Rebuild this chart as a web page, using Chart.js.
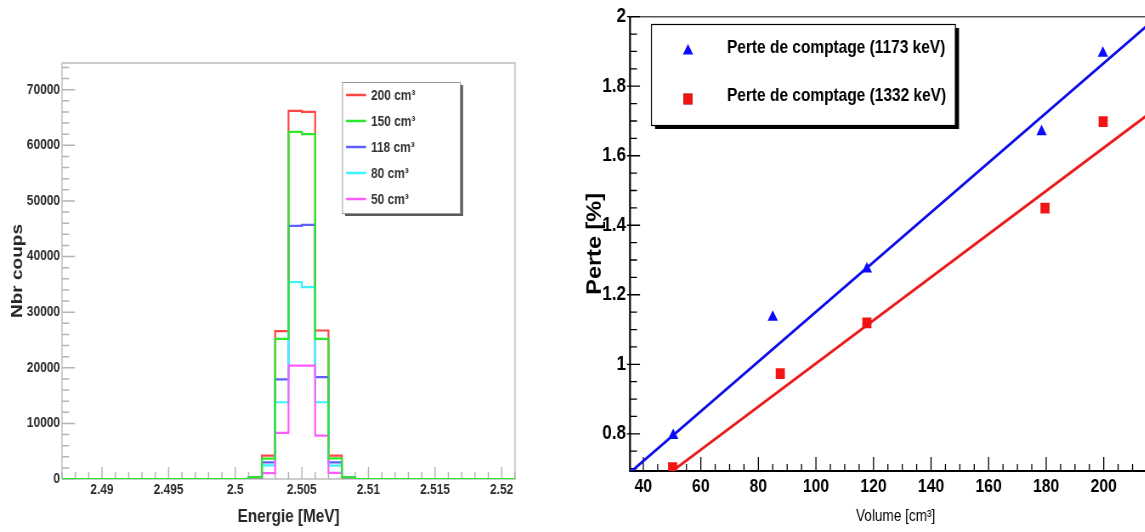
<!DOCTYPE html>
<html><head><meta charset="utf-8">
<script src="https://cdn.jsdelivr.net/npm/chart.js@4.4.1/dist/chart.umd.min.js"></script>
<style>
html,body{margin:0;padding:0;background:#fff;overflow:hidden;width:1145px;height:532px;position:relative}
.wrap{position:absolute;top:0;transform:scaleX(0.85);transform-origin:0 0}
#wl{left:0}
#wr{left:560px}
canvas{display:block}
</style></head><body>
<div class="wrap" id="wl"><canvas id="cl" width="659" height="532"></canvas></div>
<div class="wrap" id="wr"><canvas id="cr" width="715" height="532"></canvas></div>
<script>
// ================= LEFT: spectra =================
const binEdges = [2.501, 2.502, 2.503, 2.504, 2.505, 2.506, 2.507, 2.508, 2.509];
const energyRange = [2.487, 2.521];
const countRange = [0, 74800];
const volumeLabels = ['200 cm\u00B3', '150 cm\u00B3', '118 cm\u00B3', '80 cm\u00B3', '50 cm\u00B3'];
const counts200 = [300, 4200, 26600, 66200, 66000, 26700, 4200, 300];
const counts150 = [300, 3650, 25200, 62400, 62000, 25200, 3700, 300];
const counts118 = [250, 3000, 17900, 45500, 45700, 18300, 3000, 250];
const counts80  = [200, 2450, 13800, 35400, 34500, 13800, 2400, 200];
const counts50  = [100, 1050, 8300, 20400, 20400, 7800, 1100, 100];
const countTicks = [0, 10000, 20000, 30000, 40000, 50000, 60000, 70000];
const energyTicks = [2.49, 2.495, 2.5, 2.505, 2.51, 2.515, 2.52];
const countMinorStep = 2000;
const energyMinorStep = 0.001;

// ================= RIGHT: count loss =================
const volumes1173 = [50.4, 85.0, 117.7, 178.4, 199.7];
const loss1173    = [0.795, 1.135, 1.274, 1.669, 1.895];
const volumes1332 = [50.2, 87.6, 117.7, 179.6, 199.8];
const loss1332    = [0.703, 0.973, 1.119, 1.449, 1.698];
const fitVolumes  = [30, 230];
const fit1173     = [0.650, 2.081];
const fit1332     = [0.568, 1.809];
const volumeRange = [35.4, 220];
const lossRange   = [0.693, 2.0];
const volumeTicks = [40, 60, 80, 100, 120, 140, 160, 180, 200];
const lossTicks   = [0.8, 1, 1.2, 1.4, 1.6, 1.8, 2];
const volumeMinorStep = 5;
const lossMinorStep = 0.05;
const seriesLabels = ['Perte de comptage (1173 keV)', 'Perte de comptage (1332 keV)'];

// horizontal squeeze of the original picture
const S = 0.85;
const FN = "'Liberation Sans',Arial,Helvetica,sans-serif";

function minorValues(a, b, step) {
  const out = [];
  const n0 = Math.ceil(a / step - 1e-9), n1 = Math.floor(b / step + 1e-9);
  for (let n = n0; n <= n1; n++) out.push(+(n * step).toFixed(6));
  return out;
}
function stepPoints(edges, vals, range) {
  const pts = [{x: range[0], y: 0}];
  vals.forEach((v, i) => pts.push({x: edges[i], y: v}));
  pts.push({x: edges[edges.length - 1], y: 0});
  pts.push({x: range[1], y: 0});
  return pts;
}
const fmt = v => String(+(+v).toFixed(4));

// ---------- left chart ----------
const leftColors = ['#ff4646', '#2ae82a', '#5f5fff', '#3cf4ff', '#ff5cff'];
const leftSeries = [counts200, counts150, counts118, counts80, counts50];
const leftOrder = [4, 0, 3, 2, 1];

const leftDecor = {
  id: 'leftDecor',
  beforeDatasetsDraw(chart) {
    const ctx = chart.ctx, ca = chart.chartArea, xs = chart.scales.x, ys = chart.scales.y;
    ctx.save();
    ctx.strokeStyle = '#cdcdcd'; ctx.lineWidth = 2;
    ctx.beginPath();
    ctx.moveTo(ca.left, ca.bottom); ctx.lineTo(ca.left, ca.top); ctx.lineTo(ca.right, ca.top); ctx.lineTo(ca.right, ca.bottom); ctx.lineTo(ca.left, ca.bottom);
    ctx.stroke();
    ctx.strokeStyle = '#b4b4b4'; ctx.lineWidth = 1.5;
    ctx.beginPath();
    minorValues(countRange[0], countRange[1], countMinorStep).forEach(v => {
      const p = ys.getPixelForValue(v);
      const major = countTicks.some(t => Math.abs(t - v) < 1e-6);
      ctx.moveTo(ca.left, p); ctx.lineTo(ca.left + (major ? 13 : 7) / S, p);
    });
    minorValues(energyRange[0], energyRange[1], energyMinorStep).forEach(v => {
      const p = xs.getPixelForValue(v);
      const major = energyTicks.some(t => Math.abs(t - v) < 1e-6);
      ctx.moveTo(p, ca.bottom); ctx.lineTo(p, ca.bottom - (major ? 12 : 7));
    });
    ctx.stroke();
    ctx.restore();
  },
  afterDatasetsDraw(chart) {
    const ctx = chart.ctx;
    const lg = {x: 342 / S, y: 82, w: 118 / S, h: 131};
    ctx.save();
    ctx.fillStyle = '#5a5a5a'; ctx.fillRect(lg.x + 3 / S, lg.y + 3, lg.w, lg.h);
    ctx.fillStyle = '#fff'; ctx.fillRect(lg.x, lg.y, lg.w, lg.h);
    ctx.strokeStyle = '#9a9a9a'; ctx.lineWidth = 1; ctx.strokeRect(lg.x + 0.5, lg.y + 0.5, lg.w, lg.h);
    ctx.font = 'bold 14px ' + FN; ctx.textBaseline = 'middle'; ctx.textAlign = 'left';
    chart.data.datasets.forEach((ds, i) => {
      const y = 95 + 26 * i;
      ctx.strokeStyle = ds.borderColor; ctx.lineWidth = 2.5;
      ctx.beginPath(); ctx.moveTo(346 / S, y); ctx.lineTo(366 / S, y); ctx.stroke();
      ctx.fillStyle = '#333'; ctx.fillText(ds.label, 371 / S, y + 1);
    });
    ctx.restore();
  }
};

new Chart(document.getElementById('cl'), {
  type: 'line',
  data: {
    datasets: leftSeries.map((vals, i) => ({
      label: volumeLabels[i],
      data: stepPoints(binEdges, vals, energyRange),
      borderColor: leftColors[i], borderWidth: 2.2, pointRadius: 0,
      stepped: true, fill: false, order: leftOrder[i]
    }))
  },
  options: {
    responsive: false, animation: false, events: [],
    layout: {padding: {left: 0, top: 63, right: 659 - 515 / S, bottom: 0}},
    plugins: {legend: {display: false}, tooltip: {enabled: false}},
    scales: {
      x: {
        type: 'linear', min: energyRange[0], max: energyRange[1],
        afterBuildTicks: s => { s.ticks = energyTicks.map(v => ({value: v})); },
        afterFit: s => { s.height = 53; },
        grid: {display: false, drawTicks: false}, border: {display: false},
        ticks: {autoSkip: false, maxRotation: 0, padding: 3, color: '#2c2c2c',
                font: {family: FN, size: 14, weight: 'bold'}, callback: v => fmt(v)},
        title: {display: true, text: 'Energie [MeV]', color: '#262626',
                font: {family: FN, size: 18, weight: 'bold'}, padding: {top: 0, bottom: 4}}
      },
      y: {
        type: 'linear', min: countRange[0], max: countRange[1],
        afterBuildTicks: s => { s.ticks = countTicks.map(v => ({value: v})); },
        afterFit: s => { s.width = 62 / S; },
        grid: {display: false, drawTicks: false}, border: {display: false},
        ticks: {autoSkip: false, padding: 2.4, color: '#2c2c2c',
                font: {family: FN, size: 14, weight: 'bold'}, callback: v => String(v)},
        title: {display: true, text: 'Nbr coups', color: '#262626',
                font: {family: FN, size: 19, weight: 'bold'}, padding: {top: 9.5, bottom: 0}}
      }
    }
  },
  plugins: [leftDecor]
});

// ---------- right chart ----------
const OFF = 560;
const rightDecor = {
  id: 'rightDecor',
  beforeDatasetsDraw(chart) {
    const ctx = chart.ctx, ca = chart.chartArea, xs = chart.scales.x, ys = chart.scales.y;
    ctx.save();
    ctx.strokeStyle = '#555'; ctx.lineWidth = 1.5;
    ctx.beginPath(); ctx.moveTo(ca.left, ca.top); ctx.lineTo(ca.right, ca.top); ctx.stroke();
    ctx.strokeStyle = '#000'; ctx.lineWidth = 2.2;
    ctx.beginPath(); ctx.moveTo(ca.left, ca.top); ctx.lineTo(ca.left, ca.bottom); ctx.lineTo(ca.right, ca.bottom); ctx.stroke();
    ctx.lineWidth = 1.3;
    ctx.beginPath();
    minorValues(lossRange[0], lossRange[1], lossMinorStep).forEach(v => {
      const p = ys.getPixelForValue(v);
      const major = lossTicks.some(t => Math.abs(t - v) < 1e-6);
      if (major) { ctx.moveTo(ca.left - 3 / S, p); ctx.lineTo(ca.left + 10 / S, p); }
      else { ctx.moveTo(ca.left, p); ctx.lineTo(ca.left + 7 / S, p); }
    });
    minorValues(volumeRange[0], volumeRange[1], volumeMinorStep).forEach(v => {
      const p = xs.getPixelForValue(v);
      const major = volumeTicks.some(t => Math.abs(t - v) < 1e-6) || v === 220;
      ctx.moveTo(p, ca.bottom); ctx.lineTo(p, ca.bottom - (major ? 14 : 7));
    });
    ctx.stroke();
    ctx.restore();
  },
  afterDatasetsDraw(chart) {
    const ctx = chart.ctx;
    const lg = {x: (651 - OFF) / S, y: 24, w: 304 / S, h: 101};
    ctx.save();
    ctx.fillStyle = '#000'; ctx.fillRect(lg.x + 4 / S, lg.y + 4, lg.w, lg.h);
    ctx.fillStyle = '#fff'; ctx.fillRect(lg.x, lg.y, lg.w, lg.h);
    ctx.strokeStyle = '#000'; ctx.lineWidth = 1.2; ctx.strokeRect(lg.x + 0.5, lg.y + 0.5, lg.w, lg.h);
    const sc = chart.data.datasets;
    [[sc[0], 51], [sc[1], 99]].forEach(([ds, y]) => {
      ctx.beginPath();
      Chart.helpers.drawPoint(ctx, {pointStyle: ds.pointStyle, radius: ds.pointRadius, borderWidth: 0}, (688 - OFF) / S, y);
      ctx.fillStyle = ds.backgroundColor; ctx.fill();
      ctx.fillStyle = '#000'; ctx.font = 'bold 18.2px ' + FN; ctx.textBaseline = 'middle'; ctx.textAlign = 'left';
      ctx.fillText(ds.label, (727 - OFF) / S, y - 3);
    });
    ctx.restore();
  }
};

new Chart(document.getElementById('cr'), {
  type: 'scatter',
  data: {
    datasets: [
      {label: seriesLabels[0], data: volumes1173.map((v, i) => ({x: v, y: loss1173[i]})),
       pointStyle: 'triangle', pointRadius: 7, backgroundColor: '#0a0aff', borderWidth: 0, order: 0},
      {label: seriesLabels[1], data: volumes1332.map((v, i) => ({x: v, y: loss1332[i]})),
       pointStyle: 'rect', pointRadius: 7.6, backgroundColor: '#f01414', borderWidth: 0, order: 1},
      {type: 'line', label: 'fit1173', data: fitVolumes.map((v, i) => ({x: v, y: fit1173[i]})),
       borderColor: '#0d0de6', borderWidth: 2.8, pointRadius: 0, fill: false, clip: 0, order: 2},
      {type: 'line', label: 'fit1332', data: fitVolumes.map((v, i) => ({x: v, y: fit1332[i]})),
       borderColor: '#ec1a1a', borderWidth: 2.8, pointRadius: 0, fill: false, clip: 0, order: 3}
    ]
  },
  options: {
    responsive: false, animation: false, events: [],
    layout: {padding: {left: 0, top: 13, right: 715 - (1163 - OFF) / S, bottom: 0}},
    plugins: {legend: {display: false}, tooltip: {enabled: false}},
    scales: {
      x: {
        type: 'linear', min: volumeRange[0], max: volumeRange[1],
        afterBuildTicks: s => { s.ticks = volumeTicks.map(v => ({value: v})); },
        afterFit: s => { s.height = 61; },
        grid: {display: false, drawTicks: false}, border: {display: false},
        ticks: {autoSkip: false, maxRotation: 0, padding: 5, color: '#000',
                font: {family: FN, size: 18.5, weight: 'bold'}, callback: v => fmt(v)},
        title: {display: true, text: 'Volume [cm\u00B3]', color: '#000',
                font: {family: FN, size: 16, weight: 'normal'}, padding: {top: 0, bottom: 6}}
      },
      y: {
        type: 'linear', min: lossRange[0], max: lossRange[1],
        afterBuildTicks: s => { s.ticks = lossTicks.map(v => ({value: v})); },
        afterFit: s => { s.width = 70 / S; },
        grid: {display: false, drawTicks: false}, border: {display: false},
        ticks: {autoSkip: false, padding: 4.7, color: '#000',
                font: {family: FN, size: 20, weight: 'bold'}, callback: v => fmt(v)},
        title: {display: true, text: 'Perte [%]', color: '#000',
                font: {family: FN, size: 23.5, weight: 'bold'}, padding: {top: 27, bottom: 0}}
      }
    }
  },
  plugins: [rightDecor]
});
</script>
</body></html>
